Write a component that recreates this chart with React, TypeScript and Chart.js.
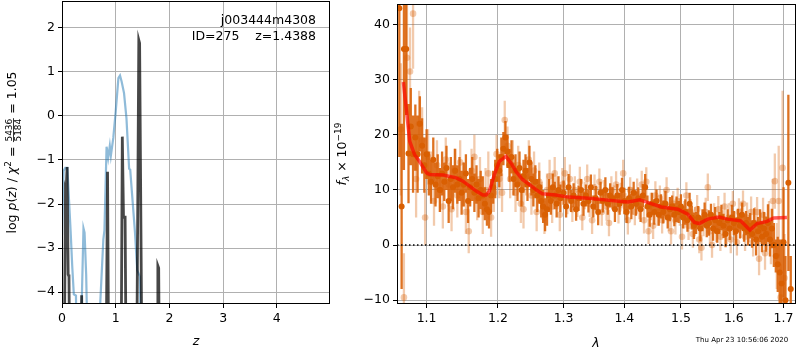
import React, { useEffect, useRef } from 'react';
import { Chart, registerables } from 'chart.js';

Chart.register(...registerables);

const FONT = 'DejaVu Sans';

// ---------- Left panel: p(z) ----------
const zRange = [0, 4.99];
const logpRange = [-4.27, 2.61];
const zTicks = [0, 1, 2, 3, 4];
const logpTicks = [-4, -3, -2, -1, 0, 1, 2];

const zBlue = [0.0, 0.03, 0.06, 0.10, 0.13, 0.16, 0.19, 0.22, 0.26, 0.28,
  0.35, 0.37, 0.40, 0.42, 0.45, 0.49,
  0.69, 0.71, 0.77, 0.79, 0.83, 0.86, 0.89, 0.91, 0.955,
  1.00, 1.05, 1.08, 1.11, 1.155, 1.20, 1.25, 1.27, 1.30, 1.36, 1.40, 1.45, 1.48, 4.99];
const logpBlue = [-2.7, -1.25, -1.18, -1.18, -1.9, -2.6, -3.4, -4.05, -4.08, -6,
  -6, -4.1, -2.55, -2.65, -3.6, -6,
  -6, -4.3, -2.8, -2.6, -0.7, -0.95, -0.68, -0.9, -0.5,
  0.1, 0.86, 0.92, 0.78, 0.52, -0.05, -1.2, -1.22, -1.7, -2.66, -3.5, -3.65, -6, -6];

const zBlack = [0.0, 0.04, 0.065, 0.075, 0.095, 0.115, 0.13, 0.145,
  0.35, 0.366, 0.38,
  0.82, 0.848, 0.87,
  1.10, 1.123, 1.145, 1.175, 1.195,
  1.39, 1.43, 1.445, 1.49,
  1.77, 1.785, 1.80, 1.815, 4.99];
const logpBlack = [-6, -6, -1.7, -1.75, -1.16, -3.6, -3.65, -6,
  -6, -4.07, -6,
  -6, -1.27, -6,
  -6, -0.47, -2.3, -2.3, -6,
  -6, 1.72, 1.65, -6,
  -6, -3.4, -3.45, -6, -6];

// ---------- Right panel: spectrum ----------
const lamRange = [1.061, 1.726];
const fluxRange = [-10.7, 43.75];
const lamTicks = [1.1, 1.2, 1.3, 1.4, 1.5, 1.6, 1.7];
const fluxTicks = [-10, 0, 10, 20, 30, 40];
const zeroLevel = 0;

const lamDark = [
  1.064, 1.067, 1.070, 1.073, 1.076, 1.079, 1.082, 1.085, 1.088, 1.091,
  1.094, 1.097, 1.100, 1.103, 1.106, 1.109, 1.112, 1.115, 1.118, 1.121,
  1.124, 1.127, 1.130, 1.133, 1.136, 1.139, 1.142, 1.145, 1.148, 1.151,
  1.154, 1.157, 1.160, 1.163, 1.166, 1.169, 1.172, 1.175, 1.178, 1.181,
  1.184, 1.187, 1.190, 1.193, 1.196, 1.199, 1.202, 1.205, 1.208, 1.211,
  1.214, 1.217, 1.220, 1.223, 1.226, 1.229, 1.232, 1.235, 1.238, 1.241,
  1.244, 1.247, 1.250, 1.253, 1.256, 1.259, 1.262, 1.265, 1.268, 1.271,
  1.274, 1.277, 1.280, 1.283, 1.286, 1.289, 1.292, 1.295,
  1.300, 1.304, 1.308, 1.312, 1.316, 1.320, 1.324, 1.328, 1.332, 1.336,
  1.340, 1.344, 1.348, 1.352, 1.356, 1.360, 1.364, 1.368, 1.372, 1.376,
  1.380, 1.384, 1.388, 1.392, 1.396, 1.400, 1.404, 1.408, 1.412, 1.416,
  1.420, 1.424, 1.428, 1.432, 1.436, 1.440, 1.444, 1.448, 1.452, 1.456,
  1.460, 1.464, 1.468, 1.472, 1.476, 1.480, 1.484, 1.488, 1.492, 1.496,
  1.500, 1.504, 1.508, 1.512, 1.516, 1.520, 1.524, 1.528, 1.532, 1.536,
  1.540, 1.544, 1.548, 1.552, 1.556, 1.560, 1.564, 1.568, 1.572, 1.576,
  1.580, 1.584, 1.588, 1.592, 1.596, 1.600, 1.604, 1.608, 1.612, 1.616,
  1.620, 1.624, 1.628, 1.632, 1.636, 1.640, 1.644, 1.648, 1.652, 1.656,
  1.660, 1.664, 1.668, 1.672, 1.676, 1.680,
  1.684, 1.688, 1.692, 1.696, 1.700, 1.704, 1.710, 1.715];
const fluxDark = [
  43, 7, 35.6, 35.6, 16.6, 21.5, 16.5, 19.5, 16.5, 22,
  18, 14.5, 16.5, 13, 11.5, 15.5, 11, 12.5, 10, 13,
  11.5, 14, 8, 12, 10.5, 13.5, 11, 12, 9.5, 11,
  13, 8, 10.5, 12, 9.5, 11, 8.5, 10, 9, 7.5,
  6.5, 6, 9, 10.5, 12, 14.5, 13.5, 16, 17.5, 19.5,
  17, 14.5, 16, 12, 13.5, 11, 14, 10, 12.5, 13.5,
  11, 15, 12, 10, 11.5, 9, 10.5, 8, 7, 5.5,
  6.5, 9, 8, 10.5, 9, 7.5, 10, 8.5,
  9.5, 7, 10.5, 8, 9, 6.5, 8.5, 10, 7.5, 9,
  8, 10.5, 7, 8.5, 6, 9.5, 8, 10, 7.5, 9,
  8.5, 6.5, 9, 7.5, 10, 8, 6, 8.5, 7, 9.5,
  7.5, 8.5, 6.5, 9, 10.5, 7, 5.5, 7.5, 6, 8,
  5.5, 7, 6, 7.5, 5, 6.5, 7, 5.5, 6.5, 6,
  7, 5, 6, 4.5, 7.5, 5, 3.5, 4, 5, 3,
  4.5, 5.5, 3.5, 4, 5.5, 3, 4.5, 2.5, 4, 5,
  3.5, 2, 4.5, 3, 5, 4, 2.5, 4.5, 3.5, 5.5,
  3, 4, 2.5, 3.5, 2, 4, 1, 2.5, 3.5, 1.5,
  3, 2, 4, 1, 3, 0,
  -2, -3.5, -5, -7, 0.5, -10, 11.3, -8];
const errDark = [
  27, 15, 22, 12, 9, 7, 7, 6, 7, 5,
  5, 5, 4.5, 4, 4, 4, 4, 4, 4, 4,
  3.5, 4, 4, 4, 4, 4, 3.5, 4, 4, 4,
  3.5, 4, 3.5, 4, 3.5, 3.5, 3.5, 3.5, 3.5, 3,
  3, 3, 3, 3, 3.5, 3, 3, 3.5, 3, 3,
  3, 3, 3, 3, 3, 3, 3, 3, 3, 3,
  3, 3, 3, 3, 3, 3, 3, 3, 3, 3,
  3, 3, 2.5, 2.5, 2.5, 2.5, 2.5, 2.5,
  2.2, 2, 2.4, 2, 2.2, 2.1, 2.3, 2, 2.2, 2,
  2.1, 2.3, 2, 2.2, 2.4, 2, 2.1, 2.3, 2, 2.2,
  2, 2.3, 2.1, 2, 2.2, 2.4, 2, 2.1, 2.3, 2,
  2.2, 2, 2.3, 2.1, 2.4, 2, 2.2, 2, 2.3, 2.1,
  2, 2.2, 2.1, 2.3, 2, 2.2, 2, 2.1, 2.3, 2,
  2.2, 2, 2.3, 2.1, 2, 2.2, 2.4, 2, 2.1, 2.3,
  2, 2.2, 2.1, 2.3, 2, 2.2, 2.4, 2.1, 2, 2.3,
  2.2, 2.4, 2, 2.1, 2.3, 2.2, 2.5, 2.1, 2.3, 2.2,
  2.4, 2.2, 2.6, 2.3, 2.5, 2.7, 2.9, 2.6, 3, 2.8,
  3, 3.2, 3.4, 3.1, 3.6, 4,
  3, 5, 6, 8, 10, 8, 16, 6];

const lamLight = [
  1.066, 1.070, 1.074, 1.078, 1.082, 1.086, 1.090, 1.094, 1.098, 1.102,
  1.106, 1.110, 1.114, 1.118, 1.122, 1.126, 1.130, 1.134, 1.138, 1.142,
  1.146, 1.150, 1.154, 1.158, 1.162, 1.166, 1.170, 1.174, 1.178, 1.182,
  1.186, 1.190, 1.194, 1.198, 1.202, 1.206, 1.210, 1.214, 1.218, 1.222,
  1.226, 1.230, 1.234, 1.238, 1.242, 1.246, 1.250, 1.254, 1.258, 1.262,
  1.266, 1.270, 1.274, 1.278, 1.282, 1.286, 1.290, 1.294, 1.298, 1.302,
  1.306, 1.310, 1.314, 1.318, 1.322, 1.326, 1.330, 1.334, 1.338, 1.342,
  1.346, 1.350, 1.354, 1.358, 1.362, 1.366, 1.370, 1.374, 1.378, 1.382,
  1.386, 1.390, 1.394, 1.398, 1.402, 1.406, 1.410, 1.414, 1.418, 1.422,
  1.426, 1.430, 1.434, 1.438, 1.442, 1.446, 1.450, 1.454, 1.458, 1.462,
  1.466, 1.470, 1.474, 1.478, 1.482, 1.486, 1.490, 1.494, 1.498, 1.502,
  1.506, 1.510, 1.514, 1.518, 1.522, 1.526, 1.530, 1.534, 1.538, 1.542,
  1.546, 1.550, 1.554, 1.558, 1.562, 1.566, 1.570, 1.574, 1.578, 1.582,
  1.586, 1.590, 1.594, 1.598, 1.602, 1.606, 1.610, 1.614, 1.618, 1.622,
  1.626, 1.630, 1.634, 1.638, 1.642, 1.646, 1.650, 1.654, 1.658, 1.662,
  1.666, 1.670, 1.674, 1.678, 1.682, 1.686, 1.690, 1.694, 1.698, 1.702];
const fluxLight = [
  21, -9.5, 34, 31.5, 42, 12, 22, 19, 5, 16,
  12.5, 8, 14.5, 10, 7, 15.5, 11, 6.5, 13.5, 9,
  15, 11, 6, 2.5, 13.5, 16, 8.5, 12, 6, 10,
  13, 5, 9.5, 16.5, 12, 9.5, 22.7, 18, 12, 15.5,
  9.5, 14.5, 7.5, 6.5, 12.5, 15.5, 9, 13.5, 6, 11.5,
  8.5, 5, 10, 12.5, 7, 13, 9.5, 5.5, 11, 13,
  8, 12, 6.5, 10, 7.5, 11.5, 5, 9, 12, 7.5,
  4.5, 10.5, 8, 11.5, 6, 9.5, 7, 4, 10, 8.5,
  11, 6.5, 9, 13, 7, 4.5, 10, 8, 6, 9.5,
  7, 11, 4.5, 11.5, 2.5, 7, 3.5, 9, 6, 8.5,
  4.5, 7.5, 10, 5, 2.5, 7.5, 4.5, 8, 6, 1.5,
  5.5, 9, 3.5, 6, 2, 4.5, 6.5, 1, -0.5, 4,
  6, 10.5, 2.5, 0, 5, 3, 6.5, 1.5, 4, 7,
  2.5, 5, 1, 7.5, 3.5, 0.5, 6, 4, 7.5, 1.5,
  5, 3, 6, 0.5, 4, 6, -2.5, 3, 5.5, -1.5,
  2, 4.5, 0.5, 8, 11.6, -2, 8, -9.5, 14, -6];
const errLight = [
  12, 8, 10, 8, 10, 7, 6, 6, 5, 5,
  4.5, 4.5, 4.5, 4, 4, 4, 4, 4, 4, 4,
  4, 4, 4, 4, 4, 4, 4, 4, 4, 4,
  4, 3.5, 3.5, 3.5, 3.5, 3.5, 3.5, 3.5, 3.5, 3.5,
  3.5, 3.5, 3.5, 3.5, 3.5, 3.5, 3.5, 3.5, 3.5, 3.5,
  3, 3, 3, 3, 3, 3, 3, 3, 3, 3,
  2.4, 2.6, 2.3, 2.5, 2.4, 2.7, 2.3, 2.5, 2.6, 2.4,
  2.5, 2.3, 2.6, 2.4, 2.5, 2.3, 2.6, 2.4, 2.5, 2.3,
  2.4, 2.6, 2.3, 2.5, 2.4, 2.6, 2.3, 2.5, 2.4, 2.6,
  2.3, 2.5, 2.4, 2.6, 2.3, 2.5, 2.4, 2.6, 2.5, 2.3,
  2.4, 2.6, 2.3, 2.5, 2.4, 2.3, 2.6, 2.4, 2.5, 2.3,
  2.5, 2.4, 2.6, 2.3, 2.5, 2.4, 2.6, 2.5, 2.3, 2.4,
  2.6, 2.5, 2.4, 2.3, 2.6, 2.5, 2.4, 2.6, 2.3, 2.5,
  2.4, 2.6, 2.5, 2.3, 2.6, 2.4, 2.5, 2.7, 2.4, 2.6,
  2.7, 2.5, 2.8, 2.6, 2.9, 2.7, 3, 2.8, 3.1, 3,
  3, 3.5, 4, 4, 5, 6, 10, 6, 14, 8];

const lamModel = [1.0693, 1.0735, 1.0776, 1.0840, 1.0904, 1.1000, 1.1044, 1.1224, 1.1406,
  1.1499, 1.1592, 1.1686, 1.1780, 1.1828, 1.1876, 1.1948, 1.2020, 1.2117, 1.2191,
  1.2265, 1.2364, 1.2464, 1.2565, 1.2667, 1.2873, 1.3082, 1.3402, 1.3675, 1.3954,
  1.4067, 1.4267, 1.4411, 1.4645, 1.4944, 1.5126, 1.5248, 1.5340, 1.5496, 1.5716,
  1.5875, 1.6133, 1.6231, 1.6316, 1.6462, 1.6662, 1.6797, 1.7070];
const fluxModel = [29.6, 24.2, 18.8, 16.4, 15.2, 13.1, 12.8, 12.7, 12.2,
  11.6, 10.7, 9.8, 9.1, 9.1, 9.8, 12.8, 15.2, 16.1, 14.9,
  13.4, 11.9, 11.0, 10.1, 9.3, 9.1, 8.7, 8.5, 8.2, 7.9,
  7.8, 8.2, 7.7, 6.9, 6.5, 5.6, 4.1, 3.9, 4.7, 5.1,
  4.7, 4.4, 3.5, 2.7, 3.9, 4.3, 4.9, 5.0];

// ---------- helpers ----------
const pts = (xs: number[], ys: number[]) => xs.map((x, i) => ({ x, y: ys[i] }));
const errSegs = (xs: number[], ys: number[], es: number[]) => {
  const out: any[] = [];
  xs.forEach((x, i) => {
    out.push({ x, y: ys[i] - es[i] }, { x, y: ys[i] + es[i] }, { x, y: null });
  });
  return out;
};
const minusFmt = (v: number) => (v < 0 ? '\u2212' + Math.abs(v) : String(v));

function fontStr(size: number, italic?: boolean) {
  return `${italic ? 'italic ' : ''}${size}px "${FONT}"`;
}

function drawRich(ctx: CanvasRenderingContext2D, segs: any[], cx: number, cy: number, rotate: boolean) {
  ctx.save();
  ctx.translate(cx, cy);
  if (rotate) ctx.rotate(-Math.PI / 2);
  ctx.fillStyle = '#000';
  ctx.textBaseline = 'alphabetic';
  ctx.textAlign = 'left';
  const widths = segs.map((s) => {
    ctx.font = fontStr(s.size, s.italic);
    if (s.num !== undefined) return Math.max(ctx.measureText(s.num).width, ctx.measureText(s.den).width) + 2;
    return ctx.measureText(s.t).width;
  });
  const total = widths.reduce((a, b) => a + b, 0);
  let x = -total / 2;
  segs.forEach((s, i) => {
    ctx.font = fontStr(s.size, s.italic);
    const w = widths[i];
    if (s.num !== undefined) {
      ctx.textAlign = 'center';
      ctx.fillText(s.num, x + w / 2, s.numY);
      ctx.fillText(s.den, x + w / 2, s.denY);
      ctx.fillRect(x + 0.5, s.lineY, w - 1, 0.8);
      ctx.textAlign = 'left';
    } else {
      ctx.fillText(s.t, x, s.dy);
    }
    x += w;
  });
  ctx.restore();
}

function axis(type: string, range: number[], ticks: number[], fmt: (v: number) => string, horizontal: boolean, size: number) {
  return {
    type,
    position: horizontal ? 'bottom' : 'left',
    min: range[0],
    max: range[1],
    afterBuildTicks: (s: any) => {
      s.ticks = ticks.map((v) => ({ value: v }));
    },
    afterFit: (s: any) => {
      if (horizontal) s.height = size;
      else s.width = size;
      s.paddingTop = 0;
      s.paddingBottom = 0;
      s.paddingLeft = 0;
      s.paddingRight = 0;
    },
    grid: { color: '#b0b0b0', lineWidth: 1, drawTicks: true, tickLength: 4, tickColor: '#000', tickWidth: 1 },
    border: { display: false },
    ticks: {
      color: '#000',
      font: { family: FONT, size: 12.5 },
      padding: 3,
      autoSkip: false,
      maxRotation: 0,
      minRotation: 0,
      callback: (v: any) => fmt(Number(v)),
    },
  };
}

const frame = (chart: any) => {
  const { ctx, chartArea: a } = chart;
  ctx.save();
  ctx.strokeStyle = '#000';
  ctx.lineWidth = 1;
  ctx.strokeRect(a.left + 0.5, a.top + 0.5, a.right - a.left - 1, a.bottom - a.top - 1);
  ctx.restore();
};

const ORANGE = 'rgb(217,95,2)';
const ORANGE_BAR = 'rgba(217,95,2,0.88)';
const ORANGE_LIGHT = 'rgba(217,95,2,0.33)';

export default function App() {
  const leftRef = useRef<HTMLCanvasElement>(null);
  const rightRef = useRef<HTMLCanvasElement>(null);

  useEffect(() => {
    Chart.defaults.font.family = FONT;

    const leftDeco = {
      id: 'leftDeco',
      afterDraw(chart: any) {
        frame(chart);
        const ctx = chart.ctx as CanvasRenderingContext2D;
        const a = chart.chartArea;
        ctx.save();
        ctx.fillStyle = '#000';
        ctx.font = fontStr(12.5);
        ctx.textAlign = 'right';
        ctx.textBaseline = 'alphabetic';
        ctx.fillText('j003444m4308', a.right - 14, 24);
        ctx.fillText('ID=275    z=1.4388', a.right - 14, 39.5);
        ctx.font = fontStr(12.5, true);
        ctx.textAlign = 'center';
        ctx.fillText('z', (a.left + a.right) / 2, 344.5);
        ctx.restore();
        const s = 12.5;
        drawRich(ctx, [
          { t: 'log ', size: s, dy: 4 },
          { t: 'p', size: s, italic: true, dy: 4 },
          { t: '(', size: s, dy: 4 },
          { t: 'z', size: s, italic: true, dy: 4 },
          { t: ') / ', size: s, dy: 4 },
          { t: '\u03c7', size: s, italic: true, dy: 4 },
          { t: '2', size: 9, dy: -1.5 },
          { t: ' = ', size: s, dy: 4 },
          { num: '5436', den: '5184', size: 9, numY: 0.3, denY: 8.7, lineY: 1.2 },
          { t: ' = 1.05', size: s, dy: 4 },
        ], 12, 152.5, true);
      },
    };

    const rightDeco = {
      id: 'rightDeco',
      afterDraw(chart: any) {
        frame(chart);
        const ctx = chart.ctx as CanvasRenderingContext2D;
        const a = chart.chartArea;
        ctx.save();
        ctx.fillStyle = '#000';
        ctx.textAlign = 'center';
        ctx.textBaseline = 'alphabetic';
        ctx.font = fontStr(12.5, true);
        ctx.fillText('\u03bb', (a.left + a.right) / 2 - 0.5, 346.5);
        ctx.font = fontStr(7);
        ctx.fillText('Thu Apr 23 10:56:06 2020', 412, 341.5);
        ctx.restore();
        const s = 12.5;
        drawRich(ctx, [
          { t: 'f', size: s, italic: true, dy: 4 },
          { t: '\u03bb', size: 9, italic: true, dy: 7 },
          { t: ' \u00d7 10', size: s, dy: 4 },
          { t: '\u221219', size: 9, dy: -1.5 },
        ], 12, 154, true);
      },
    };

    const common = {
      animation: false as const,
      responsive: false,
      events: [] as any[],
      plugins: { legend: { display: false }, tooltip: { enabled: false } },
    };

    const c1 = new Chart(leftRef.current!, {
      type: 'scatter',
      data: {
        datasets: [
          {
            data: pts(zBlack, logpBlack),
            showLine: true,
            borderColor: 'rgba(0,0,0,0.72)',
            borderWidth: 2.8,
            pointRadius: 0,
            tension: 0,
            clip: 0,
            order: 0,
          },
          {
            data: pts(zBlue, logpBlue),
            showLine: true,
            borderColor: 'rgba(31,119,180,0.5)',
            borderWidth: 2.2,
            pointRadius: 0,
            tension: 0,
            clip: 0,
            order: 1,
          },
        ],
      },
      options: {
        ...common,
        layout: { padding: { left: 0, right: 5, top: 1, bottom: 0 } },
        scales: {
          x: axis('linear', zRange, zTicks, (v) => String(v), true, 46) as any,
          y: axis('linear', logpRange, logpTicks, minusFmt, false, 62) as any,
        },
      },
      plugins: [leftDeco],
    } as any);

    const c2 = new Chart(rightRef.current!, {
      type: 'scatter',
      data: {
        datasets: [
          {
            data: [{ x: lamRange[0], y: zeroLevel }, { x: lamRange[1], y: zeroLevel }],
            showLine: true,
            borderColor: '#000',
            borderWidth: 1.5,
            borderDash: [1.5, 2.5],
            pointRadius: 0,
            clip: 0,
            order: 0,
          },
          {
            data: pts(lamModel, fluxModel),
            showLine: true,
            borderColor: 'rgba(255,0,0,0.65)',
            borderWidth: 3.5,
            pointRadius: 0,
            tension: 0,
            clip: 0,
            order: 1,
          },
          {
            data: pts(lamDark, fluxDark),
            pointRadius: 3,
            pointBackgroundColor: ORANGE,
            pointBorderWidth: 0,
            clip: 0,
            order: 2,
          },
          {
            data: errSegs(lamDark, fluxDark, errDark),
            showLine: true,
            spanGaps: false,
            borderColor: ORANGE_BAR,
            borderWidth: 2.3,
            pointRadius: 0,
            clip: 0,
            order: 3,
          },
          {
            data: pts(lamLight, fluxLight),
            pointRadius: 3.3,
            pointBackgroundColor: ORANGE_LIGHT,
            pointBorderWidth: 0,
            clip: 0,
            order: 4,
          },
          {
            data: errSegs(lamLight, fluxLight, errLight),
            showLine: true,
            spanGaps: false,
            borderColor: ORANGE_LIGHT,
            borderWidth: 2.3,
            pointRadius: 0,
            clip: 0,
            order: 5,
          },
        ],
      },
      options: {
        ...common,
        layout: { padding: { left: 0, right: 1, top: 1, bottom: 0 } },
        scales: {
          x: axis('logarithmic', lamRange, lamTicks, (v) => v.toFixed(1), true, 46) as any,
          y: axis('linear', fluxRange, fluxTicks, minusFmt, false, 67) as any,
        },
      },
      plugins: [rightDeco],
    } as any);

    return () => {
      c1.destroy();
      c2.destroy();
    };
  }, []);

  return (
    <div style={{ position: 'fixed', left: 0, top: 0, width: 800, height: 350, background: '#fff', overflow: 'hidden' }}>
      <canvas ref={leftRef} width={335} height={350} style={{ position: 'absolute', left: 0, top: 0, width: 335, height: 350 }} />
      <canvas ref={rightRef} width={470} height={350} style={{ position: 'absolute', left: 330, top: 0, width: 470, height: 350 }} />
    </div>
  );
}
